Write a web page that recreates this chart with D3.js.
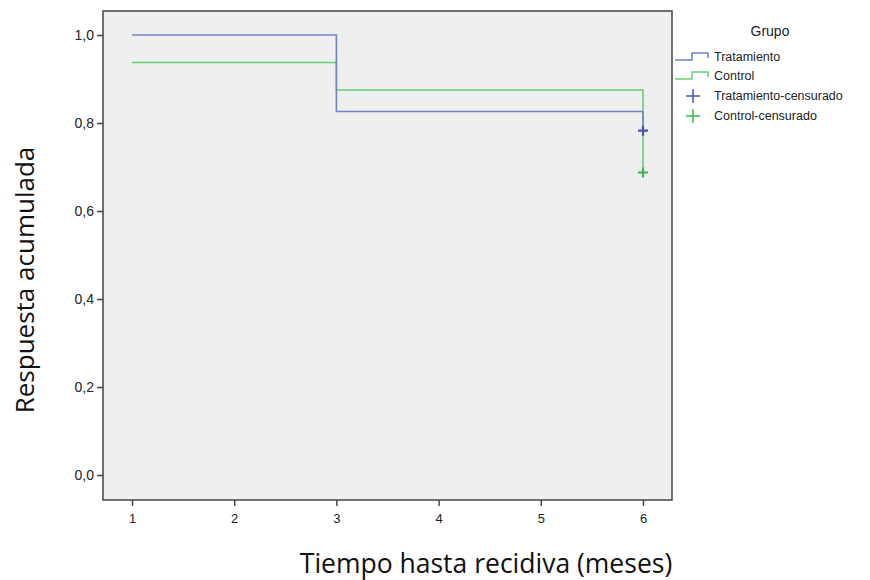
<!DOCTYPE html>
<html>
<head>
<meta charset="utf-8">
<script src="https://cdn.jsdelivr.net/npm/d3@7"></script>
<style>
body { margin: 0; background: #fff; }
svg { font-family: "Liberation Sans", Arial, sans-serif; }
</style>
</head>
<body>
<svg></svg>
<script>
// step data (time, cumulative response)
var tratTimes = [1, 3, 6];
var tratValues = [1.0, 0.8261, 0.7826];
var ctrlTimes = [1, 3, 6];
var ctrlValues = [0.9375, 0.875, 0.6875];
var tratCensor = [{ t: 6, v: 0.7826 }];
var ctrlCensor = [{ t: 6, v: 0.6875 }];
var xTicks = [1, 2, 3, 4, 5, 6];
var yTicks = [0, 0.2, 0.4, 0.6, 0.8, 1.0];
var legendNames = ["Tratamiento", "Control", "Tratamiento-censurado", "Control-censurado"];

var blue = "#7282c6", green = "#66cf76";
var blueMark = "#4656b0", greenMark = "#36b846";

var svgWidth = 870, svgHeight = 580;
var box = { left: 103, top: 11, right: 672, bottom: 500 };

var svg = d3.select("svg")
    .attr("width", svgWidth)
    .attr("height", svgHeight);

var x = d3.scaleLinear().domain([1, 6]).range([132, 643]);
var y = d3.scaleLinear().domain([0, 1]).range([475, 35]);

svg.append("rect")
    .attr("x", box.left).attr("y", box.top)
    .attr("width", box.right - box.left).attr("height", box.bottom - box.top)
    .attr("fill", "#efefef")
    .attr("stroke", "#444").attr("stroke-width", 1.5);

function fmt(d) { return d3.format(".1f")(d).replace(".", ","); }

var yAxis = svg.append("g")
    .attr("transform", "translate(" + box.left + ",0)")
    .call(d3.axisLeft(y).tickValues(yTicks).tickSize(6).tickFormat(fmt));
yAxis.select(".domain").remove();
yAxis.selectAll("line").attr("stroke", "#444").attr("stroke-width", 1.5);
yAxis.selectAll("text").attr("font-size", 14).attr("fill", "#222")
    .attr("font-family", "Liberation Sans, Arial, sans-serif");

var xAxis = svg.append("g")
    .attr("transform", "translate(0," + box.bottom + ")")
    .call(d3.axisBottom(x).tickValues(xTicks).tickSize(6).tickFormat(d3.format("d")));
xAxis.select(".domain").remove();
xAxis.selectAll("line").attr("stroke", "#444").attr("stroke-width", 1.5);
xAxis.selectAll("text").attr("font-size", 13).attr("fill", "#222").attr("dy", "1.1em")
    .attr("font-family", "Liberation Sans, Arial, sans-serif");

function stepPoints(times, values) {
    var pts = [];
    for (var i = 0; i < times.length; i++) {
        if (i > 0) pts.push([times[i], values[i - 1]]);
        pts.push([times[i], values[i]]);
    }
    return pts;
}

var line = d3.line()
    .x(function(d) { return x(d[0]); })
    .y(function(d) { return y(d[1]); });

svg.append("path")
    .datum(stepPoints(ctrlTimes, ctrlValues))
    .attr("fill", "none").attr("stroke", green).attr("stroke-width", 1.6)
    .attr("d", line);

svg.append("path")
    .datum(stepPoints(tratTimes, tratValues))
    .attr("fill", "none").attr("stroke", blue).attr("stroke-width", 1.6)
    .attr("d", line);

function crosses(data, color) {
    svg.selectAll(null).data(data).enter().append("path")
        .attr("d", function(d) {
            var cx = x(d.t), cy = y(d.v), s = 5;
            return "M" + (cx - s) + "," + cy + "H" + (cx + s) + "M" + cx + "," + (cy - s) + "V" + (cy + s);
        })
        .attr("stroke", color).attr("stroke-width", 2.2).attr("fill", "none");
}
crosses(tratCensor, blueMark);
crosses(ctrlCensor, greenMark);

// legend
var lg = svg.append("g");
lg.append("text").attr("x", 770).attr("y", 36).attr("text-anchor", "middle")
    .attr("font-size", 14).attr("fill", "#222").text("Grupo");

var rowY = [57, 76, 96, 116];
var legColors = [blue, green, blueMark, greenMark];
legendNames.forEach(function(name, i) {
    var yy = rowY[i];
    if (i < 2) {
        lg.append("path")
            .attr("d", "M675," + (yy + 3) + "H692V" + (yy - 4) + "H708V" + (yy + 1))
            .attr("fill", "none").attr("stroke", legColors[i]).attr("stroke-width", 1.5);
    } else {
        lg.append("path")
            .attr("d", "M686," + yy + "H700M693," + (yy - 7) + "V" + (yy + 7))
            .attr("fill", "none").attr("stroke", legColors[i]).attr("stroke-width", 1.5);
    }
    lg.append("text").attr("x", 714).attr("y", yy + 4)
        .attr("font-size", 12.5).attr("fill", "#222").text(name);
});

// axis titles
svg.append("text")
    .attr("transform", "translate(34," + 280 + ") rotate(-90)")
    .attr("text-anchor", "middle")
    .attr("font-family", "Open Sans, Noto Sans, sans-serif")
    .attr("font-size", 26).attr("fill", "#111")
    .text("Respuesta acumulada");

svg.append("text")
    .attr("x", 486).attr("y", 573)
    .attr("text-anchor", "middle")
    .attr("font-family", "Open Sans, Noto Sans, sans-serif")
    .attr("font-size", 26.5).attr("fill", "#111")
    .text("Tiempo hasta recidiva (meses)");
</script>
</body>
</html>
